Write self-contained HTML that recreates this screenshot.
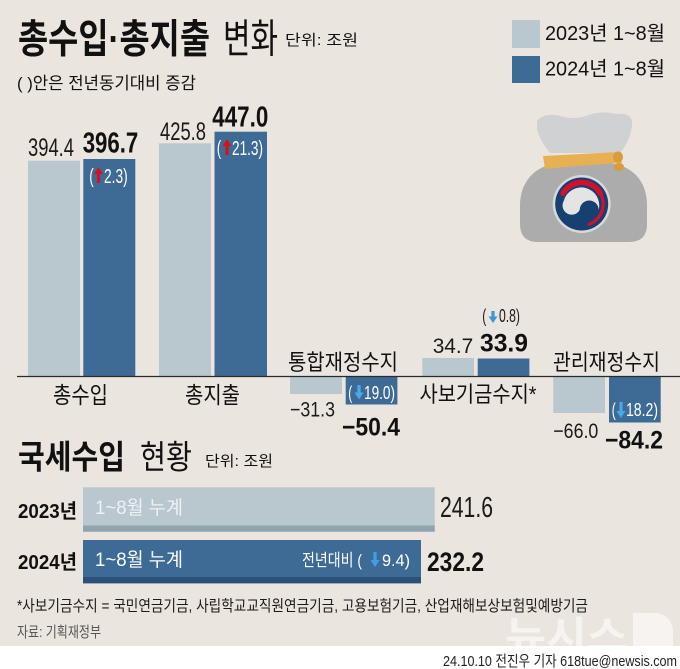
<!DOCTYPE html>
<html>
<head>
<meta charset="utf-8">
<style>
  html,body{margin:0;padding:0;background:#ebe5e0;}
  svg{display:block;}
  text{font-family:"Liberation Sans","Noto Sans CJK KR",sans-serif;}
</style>
</head>
<body>
<svg width="680" height="669" viewBox="0 0 680 669" xmlns="http://www.w3.org/2000/svg">
  <rect x="0" y="0" width="680" height="669" fill="#ebe5e0"/>

  <!-- Title -->
  <text x="18" y="52.5" font-size="40" font-weight="700" fill="#111" textLength="192" lengthAdjust="spacingAndGlyphs">총수입·총지출</text>
  <text x="223" y="52.5" font-size="40" font-weight="400" fill="#111" textLength="55" lengthAdjust="spacingAndGlyphs">변화</text>
  <text x="285" y="45" font-size="15" fill="#111" textLength="73" lengthAdjust="spacingAndGlyphs">단위: 조원</text>
  <text x="17" y="89" font-size="17" fill="#111" textLength="179" lengthAdjust="spacingAndGlyphs">( )안은 전년동기대비 증감</text>

  <!-- Legend -->
  <rect x="512" y="20" width="28" height="28" fill="#b9c7ce"/>
  <rect x="512" y="56" width="28" height="27" fill="#3e6b96"/>
  <text x="545" y="40" font-size="20" fill="#111" textLength="120" lengthAdjust="spacingAndGlyphs">2023년 1~8월</text>
  <text x="545" y="75.5" font-size="20" fill="#111" textLength="120" lengthAdjust="spacingAndGlyphs">2024년 1~8월</text>

  <!-- Bag icon -->
  <path d="M560,163 C532,165 520,185 520,205 L520,224 Q520,242 538,242 L629,242 Q647,242 647,224 L647,205 C647,185 636,165 607,163 Z" fill="#acacac"/>
  <path d="M537,121 Q545,112 560,116 Q574,120 586,116 Q601,110 616,114 Q634,112 632,126 Q630,141 620,153 L550,153 Q540,141 537,129 Z" fill="#d0d1d3"/>
  <path d="M543,156 Q580,154 620,152 L622,163 Q582,165 545,169 Z" fill="#e7b052"/>
  <ellipse cx="618" cy="157" rx="5" ry="5.5" fill="#d99c3c"/>
  <ellipse cx="619" cy="167" rx="5" ry="4" fill="#d99c3c"/>
  <g transform="translate(581.7,204)">
    <circle r="29" fill="#d9d9d9"/>
    <circle r="26.5" fill="#173f70"/>
    <path d="M-18.6,-10.75 A21.5,21.5 0 1 1 7.35,20.2" fill="none" stroke="#d0102d" stroke-width="3.2" stroke-linecap="round"/>
    <path d="M-18.6,-10.75 A21.5,21.5 0 0 1 18.6,-10.75" fill="none" stroke="#d0102d" stroke-width="5.5" stroke-linecap="round"/>
    <path d="M-18,-3 A18,18 0 1 1 17,6 A9.5,9.5 0 0 0 -2,6 A9,9 0 0 1 -18,-3 Z" fill="#e4e4e4"/>
  </g>

  <!-- Top bars -->
  <rect x="28" y="160.7" width="52" height="215.8" fill="#b9c7ce"/>
  <rect x="83.3" y="159" width="52" height="217.5" fill="#3e6b96"/>
  <rect x="159" y="143.3" width="52" height="233.2" fill="#b9c7ce"/>
  <rect x="214.5" y="131.7" width="52.5" height="244.8" fill="#3e6b96"/>

  <!-- Middle bars -->
  <rect x="290" y="376.5" width="52" height="17.5" fill="#b9c7ce"/>
  <rect x="345.7" y="376.5" width="51.7" height="28" fill="#3e6b96"/>
  <rect x="422.3" y="358" width="51.7" height="18.5" fill="#b9c7ce"/>
  <rect x="477.7" y="358.5" width="51.7" height="18" fill="#3e6b96"/>
  <rect x="553.3" y="376.5" width="51.7" height="36.5" fill="#b9c7ce"/>
  <rect x="609" y="376.5" width="51.7" height="46" fill="#3e6b96"/>

  <!-- Axis -->
  <line x1="17" y1="376.5" x2="680" y2="376.5" stroke="#2a2a2a" stroke-width="1.2"/>

  <!-- Top values -->
  <text x="28" y="156" font-size="25" fill="#1a1a1a" textLength="46" lengthAdjust="spacingAndGlyphs">394.4</text>
  <text x="82.7" y="152.5" font-size="29" font-weight="700" fill="#111" textLength="55.6" lengthAdjust="spacingAndGlyphs">396.7</text>
  <text x="160" y="140" font-size="25" fill="#1a1a1a" textLength="46" lengthAdjust="spacingAndGlyphs">425.8</text>
  <text x="212.3" y="126.5" font-size="29" font-weight="700" fill="#111" textLength="56" lengthAdjust="spacingAndGlyphs">447.0</text>

  <!-- (↑2.3) -->
  <text x="89.3" y="183" font-size="20" fill="#ffffff" textLength="4.5" lengthAdjust="spacingAndGlyphs">(</text>
  <path d="M98.5,167 L103,174 L100.1,174 L100.1,183 L96.9,183 L96.9,174 L94,174 Z" fill="#d5121c"/>
  <text x="104" y="183" font-size="20" fill="#ffffff" textLength="23.7" lengthAdjust="spacingAndGlyphs">2.3)</text>
  <!-- (↑21.3) -->
  <text x="216.7" y="155" font-size="20" fill="#ffffff" textLength="4.5" lengthAdjust="spacingAndGlyphs">(</text>
  <path d="M227,139 L231.5,146 L228.6,146 L228.6,155 L225.4,155 L225.4,146 L222.5,146 Z" fill="#d5121c"/>
  <text x="232" y="155" font-size="20" fill="#ffffff" textLength="31" lengthAdjust="spacingAndGlyphs">21.3)</text>

  <!-- Category labels -->
  <text x="53" y="403" font-size="23" fill="#111" textLength="55" lengthAdjust="spacingAndGlyphs">총수입</text>
  <text x="185" y="403" font-size="23" fill="#111" textLength="55" lengthAdjust="spacingAndGlyphs">총지출</text>
  <text x="288" y="370" font-size="22" fill="#111" textLength="110" lengthAdjust="spacingAndGlyphs">통합재정수지</text>
  <text x="419.5" y="402" font-size="22" fill="#111" textLength="117" lengthAdjust="spacingAndGlyphs">사보기금수지*</text>
  <text x="553" y="370" font-size="22" fill="#111" textLength="107" lengthAdjust="spacingAndGlyphs">관리재정수지</text>

  <!-- Middle values -->
  <text x="290" y="416.5" font-size="21" fill="#1a1a1a" textLength="45" lengthAdjust="spacingAndGlyphs">−31.3</text>
  <text x="342" y="435.5" font-size="25" font-weight="700" fill="#111" textLength="58" lengthAdjust="spacingAndGlyphs">−50.4</text>
  <!-- (↓19.0) -->
  <text x="348.3" y="399" font-size="18" fill="#ffffff" textLength="4" lengthAdjust="spacingAndGlyphs">(</text>
  <path d="M359,399.5 L363.5,392.5 L360.6,392.5 L360.6,385 L357.4,385 L357.4,392.5 L354.5,392.5 Z" fill="#4aa8e8"/>
  <text x="364" y="399" font-size="18" fill="#ffffff" textLength="31" lengthAdjust="spacingAndGlyphs">19.0)</text>

  <text x="432.7" y="353" font-size="21" fill="#1a1a1a" textLength="40.6" lengthAdjust="spacingAndGlyphs">34.7</text>
  <text x="480" y="351.5" font-size="25" font-weight="700" fill="#111" textLength="48" lengthAdjust="spacingAndGlyphs">33.9</text>
  <!-- (↓0.8) -->
  <text x="482.3" y="322" font-size="18" fill="#1a1a1a" textLength="4" lengthAdjust="spacingAndGlyphs">(</text>
  <path d="M493,323 L497.5,316.5 L494.6,316.5 L494.6,311 L491.4,311 L491.4,316.5 L488.5,316.5 Z" fill="#3a98d8"/>
  <text x="499" y="322" font-size="18" fill="#1a1a1a" textLength="21" lengthAdjust="spacingAndGlyphs">0.8)</text>

  <text x="553.3" y="438" font-size="21" fill="#1a1a1a" textLength="45" lengthAdjust="spacingAndGlyphs">−66.0</text>
  <text x="605" y="448.3" font-size="25" font-weight="700" fill="#111" textLength="58" lengthAdjust="spacingAndGlyphs">−84.2</text>
  <!-- (↓18.2) -->
  <text x="611.7" y="416" font-size="18" fill="#ffffff" textLength="4" lengthAdjust="spacingAndGlyphs">(</text>
  <path d="M621,418 L625.5,411 L622.6,411 L622.6,402 L619.4,402 L619.4,411 L616.5,411 Z" fill="#4aa8e8"/>
  <text x="626" y="416" font-size="18" fill="#ffffff" textLength="32" lengthAdjust="spacingAndGlyphs">18.2)</text>

  <!-- Bottom section title -->
  <text x="18" y="468.5" font-size="33" font-weight="700" fill="#111" textLength="107" lengthAdjust="spacingAndGlyphs">국세수입</text>
  <text x="140" y="468.5" font-size="33" fill="#111" textLength="52" lengthAdjust="spacingAndGlyphs">현황</text>
  <text x="205" y="466" font-size="15" fill="#111" textLength="68" lengthAdjust="spacingAndGlyphs">단위: 조원</text>

  <!-- Bottom bars -->
  <rect x="83" y="487.3" width="351.7" height="44.4" fill="#b9c7ce"/>
  <rect x="83" y="525.5" width="351.7" height="6.2" fill="#8fa4ae"/>
  <rect x="83" y="540" width="338" height="43.3" fill="#3e6b96"/>
  <rect x="83" y="577" width="338" height="6.3" fill="#2b5179"/>

  <text x="18" y="518" font-size="20" font-weight="700" fill="#111" textLength="59" lengthAdjust="spacingAndGlyphs">2023년</text>
  <text x="18" y="569" font-size="20" font-weight="700" fill="#111" textLength="59" lengthAdjust="spacingAndGlyphs">2024년</text>
  <text x="95" y="514" font-size="19" fill="#eef2f4" textLength="88" lengthAdjust="spacingAndGlyphs">1~8월 누계</text>
  <text x="95" y="566" font-size="19" fill="#ffffff" textLength="88" lengthAdjust="spacingAndGlyphs">1~8월 누계</text>
  <text x="302" y="566" font-size="17" fill="#ffffff" textLength="60" lengthAdjust="spacingAndGlyphs">전년대비 (</text>
  <path d="M375,567 L379.5,560 L376.6,560 L376.6,552 L373.4,552 L373.4,560 L370.5,560 Z" fill="#3ea0e4"/>
  <text x="382" y="566" font-size="17" fill="#ffffff" textLength="28" lengthAdjust="spacingAndGlyphs">9.4)</text>
  <text x="440" y="517" font-size="29" fill="#1a1a1a" textLength="53" lengthAdjust="spacingAndGlyphs">241.6</text>
  <text x="427" y="571" font-size="27" font-weight="700" fill="#111" textLength="57" lengthAdjust="spacingAndGlyphs">232.2</text>

  <!-- Footnote -->
  <text x="17" y="611" font-size="15.5" fill="#1a1a1a" textLength="571" lengthAdjust="spacingAndGlyphs">*사보기금수지 = 국민연금기금, 사립학교교직원연금기금, 고용보험기금, 산업재해보상보험및예방기금</text>
  <text x="17" y="637" font-size="15" fill="#555" textLength="84" lengthAdjust="spacingAndGlyphs">자료: 기획재정부</text>

  <!-- Watermark -->
  <text x="505" y="650" font-size="40" font-weight="700" fill="#ffffff" fill-opacity="0.55" textLength="123" lengthAdjust="spacingAndGlyphs">뉴시스</text>
  <path d="M633,613 h22 a18,18 0 0 1 18,18 v15 h-40 z" fill="#ffffff" fill-opacity="0.55"/>

  <!-- White footer band -->
  <rect x="0" y="646" width="680" height="23" fill="#ffffff"/>
  <text x="443" y="666" font-size="15" fill="#222" textLength="234" lengthAdjust="spacingAndGlyphs">24.10.10 전진우 기자 618tue@newsis.com</text>
</svg>
</body>
</html>
